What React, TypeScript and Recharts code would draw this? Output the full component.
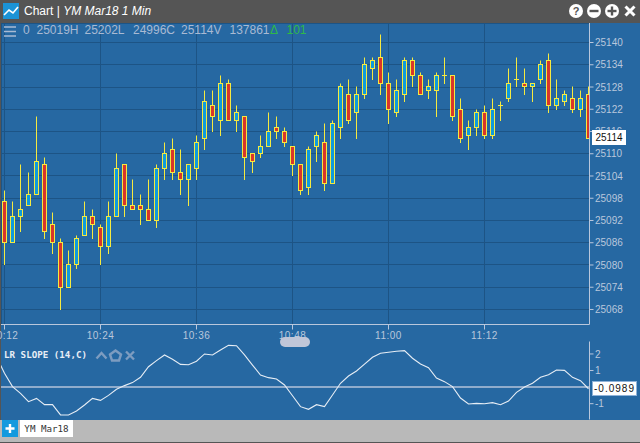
import React from 'react'
import { ComposedChart, LineChart, Bar, Line, XAxis, YAxis, CartesianGrid, ReferenceLine } from 'recharts'

// one entry per minute, first candle is 10:12
const opens = [25097, 25086, 25093, 25096, 25099, 25107, 25091, 25086, 25074, 25080, 25088, 25093, 25090, 25085, 25093, 25107, 25096, 25096, 25095, 25092, 25106, 25111, 25105, 25103, 25106, 25114, 25123, 25119, 25129, 25119, 25120, 25110, 25110, 25112, 25117, 25116, 25112, 25107, 25101, 25112, 25113, 25102, 25117, 25126, 25121, 25126, 25133, 25136, 25129, 25121, 25126, 25135, 25131, 25127, 25127, 25131, 25131, 25122, 25115, 25117, 25121, 25115, 25123, 25125, 25130, 25129, 25128, 25130, 25135, 25123, 25124, 25125, 25122, 25126]
const highs = [25100, 25097, 25107, 25105, 25120, 25109, 25094, 25087, 25084, 25088, 25097, 25095, 25091, 25097, 25110, 25107, 25103, 25099, 25103, 25107, 25113, 25114, 25111, 25107, 25115, 25127, 25127, 25131, 25130, 25123, 25120, 25110, 25115, 25121, 25120, 25117, 25112, 25107, 25112, 25116, 25118, 25119, 25129, 25130, 25128, 25136, 25136, 25142, 25132, 25130, 25136, 25136, 25132, 25130, 25132, 25136, 25131, 25125, 25119, 25122, 25123, 25125, 25124, 25133, 25136, 25133, 25129, 25135, 25137, 25130, 25127, 25128, 25127, 25128]
const lows = [25080, 25086, 25089, 25096, 25099, 25087, 25083, 25068, 25074, 25079, 25088, 25087, 25080, 25083, 25093, 25093, 25095, 25091, 25092, 25090, 25103, 25103, 25099, 25096, 25103, 25111, 25116, 25115, 25119, 25116, 25103, 25105, 25109, 25112, 25114, 25112, 25104, 25099, 25099, 25108, 25100, 25102, 25114, 25118, 25114, 25125, 25130, 25126, 25118, 25120, 25124, 25128, 25126, 25125, 25120, 25129, 25119, 25113, 25111, 25115, 25114, 25114, 25119, 25124, 25128, 25126, 25124, 25129, 25121, 25122, 25123, 25121, 25120, 25114]
const closes = [25086, 25093, 25095, 25099, 25108, 25089, 25086, 25074, 25080, 25087, 25093, 25091, 25085, 25093, 25106, 25096, 25095, 25095, 25092, 25106, 25110, 25105, 25103, 25107, 25113, 25124, 25120, 25129, 25119, 25121, 25109, 25108, 25112, 25116, 25116, 25113, 25107, 25100, 25111, 25115, 25102, 25118, 25128, 25119, 25126, 25134, 25135, 25129, 25122, 25127, 25135, 25131, 25126, 25128, 25131, 25131, 25120, 25114, 25117, 25121, 25115, 25122, 25123, 25129, 25130, 25128, 25129, 25134, 25123, 25125, 25126, 25122, 25125, 25114]

// starts one minute before the first candle, that point sits off the left edge
const slopeValues = [1.84, 0.83, 0.03, -0.38, -0.88, -0.68, -1.06, -1.06, -1.68, -1.68, -1.44, -1.08, -0.68, -0.8, -0.5, -0.13, 0.09, 0.27, 0.59, 1.23, 1.6, 1.94, 1.68, 1.37, 1.35, 1.56, 2.0, 1.94, 2.24, 2.52, 2.5, 1.94, 1.33, 0.73, 0.57, 0.49, 0.13, -0.52, -1.18, -1.34, -1.06, -1.18, -0.48, 0.23, 0.67, 0.97, 1.39, 1.8, 2.04, 2.1, 2.16, 2.2, 1.74, 1.39, 1.17, 0.55, 0.33, 0.03, -0.66, -1.02, -0.98, -1.0, -0.94, -1.06, -0.84, -0.32, 0.01, 0.23, 0.59, 0.75, 1.03, 1.01, 0.59, 0.39, -0.0989]

const timeTicks = [0, 12, 24, 36, 48, 60]
const timeLabels = ['10:12', '10:24', '10:36', '10:48', '11:00', '11:12']
const priceTicks = [25068, 25074, 25080, 25086, 25092, 25098, 25104, 25110, 25116, 25122, 25128, 25134, 25140]
const slopeTicks = [-1, 1, 2]

const candles = opens.map((open, i) => ({ minute: i, open, high: highs[i], low: lows[i], close: closes[i] }))
const slope = slopeValues.map((value, i) => ({ minute: i - 1, value }))

const BLUE_BG = '#2668a2'
const GRID = '#1d5485'
const AXIS = '#b9c7dc'
const LABEL = '#b9c7dc'
const WICK = '#f6ea3f'
const UP = '#0f9bdc'
const DOWN = '#d9362b'
const SANS = '"Liberation Sans", Arial, sans-serif'
const MONO = '"DejaVu Sans Mono", monospace'

const xDomain = [-0.4375, 73.125]
const axisTick = { fill: LABEL, fontSize: 10, fontFamily: SANS }

function Candle(props: any) {
  const { x, y, width, height, payload } = props
  const { open, high, low, close } = payload
  const perUnit = height / (high - low)
  const cx = Math.floor(x + width / 2) + 0.5
  const snap = (v: number) => Math.round(v - 0.6) + 0.5
  const top = snap(y + (high - Math.max(open, close)) * perUnit)
  const bottom = snap(y + (high - Math.min(open, close)) * perUnit)
  return (
    <g>
      <line x1={cx} x2={cx} y1={snap(y)} y2={snap(y + height) + 0.5} stroke={WICK} strokeWidth={1} />
      {open === close ? (
        <line x1={cx - 2.5} x2={cx + 2.5} y1={top} y2={top} stroke={WICK} strokeWidth={1} />
      ) : (
        <rect x={cx - 2} y={top} width={4} height={bottom - top} fill={close > open ? UP : DOWN} stroke={WICK} strokeWidth={1} />
      )}
    </g>
  )
}

function PriceChart() {
  return (
    <ComposedChart width={640} height={340} data={candles} margin={{ top: 23, left: 1, right: 0, bottom: 0 }} style={{ position: 'absolute', left: 0, top: 0 }}>
      <CartesianGrid stroke={GRID} strokeWidth={1} shapeRendering="crispEdges" />
      <XAxis
        dataKey="minute"
        type="number"
        domain={xDomain}
        allowDataOverflow
        ticks={timeTicks}
        interval={0}
        height={15.5}
        tickSize={5}
        tickMargin={2}
        tickFormatter={(v: number) => timeLabels[timeTicks.indexOf(v)]}
        tick={{ ...axisTick, letterSpacing: 0.5 }}
        stroke={AXIS}
      />
      <YAxis
        orientation="right"
        type="number"
        domain={[25063.95, 25145.26]}
        allowDataOverflow
        ticks={priceTicks}
        interval={0}
        width={50.5}
        tickSize={4}
        tickMargin={1.5}
        tick={axisTick}
        stroke={AXIS}
      />
      <Bar dataKey={(d: any) => [d.low, d.high]} barSize={8} shape={Candle} isAnimationActive={false} />
    </ComposedChart>
  )
}

function SlopeChart() {
  return (
    <LineChart width={640} height={89.5} data={slope} margin={{ top: 11.5, left: 1, right: 0, bottom: 0 }} style={{ position: 'absolute', left: 0, top: 330 }}>
      <XAxis orientation="top" dataKey="minute" type="number" domain={xDomain} allowDataOverflow height={0} tick={false} tickLine={false} stroke={AXIS} />
      <YAxis
        orientation="right"
        type="number"
        domain={[-1.955, 2.752]}
        allowDataOverflow
        ticks={slopeTicks}
        interval={0}
        width={50.5}
        tickSize={4}
        tickMargin={1.5}
        tick={axisTick}
        stroke={AXIS}
      />
      <ReferenceLine y={0} stroke="#b4c3da" strokeWidth={1.5} />
      <Line dataKey="value" type="linear" stroke="#e6edf5" strokeWidth={1.1} dot={false} isAnimationActive={false} />
    </LineChart>
  )
}

const quoteParts = [
  { text: '0', left: 23 },
  { text: '25019H', left: 36.5 },
  { text: '25202L', left: 84.5 },
  { text: '24996C', left: 133 },
  { text: '25114V', left: 181 },
  { text: '137861', left: 229.5 },
]

function abs(left: number, top: number, width: number, height: number): React.CSSProperties {
  return { position: 'absolute', left, top, width, height }
}

function TitleBar() {
  return (
    <div style={{ ...abs(0, 0, 640, 23), background: '#555555' }}>
      <svg style={abs(3, 3, 16, 16)} viewBox="0 0 16 16">
        <rect width="16" height="16" fill="#1b93d6" />
        <polyline points="1,12 6,7 10,10 15,4" fill="none" stroke="#fff" strokeWidth="1.6" />
      </svg>
      <div style={{ position: 'absolute', left: 24, top: 4, fontFamily: SANS, fontSize: 12, lineHeight: '15px', color: '#fff', whiteSpace: 'pre' }}>
        Chart | <i>YM Mar18 1 Min</i>
      </div>
      <svg style={abs(568, 3, 72, 16)} viewBox="0 0 72 16">
        <circle cx="8" cy="8" r="7" fill="#fff" />
        <text x="8" y="12" textAnchor="middle" fontFamily={SANS} fontWeight="bold" fontSize="11" fill="#555">?</text>
        <circle cx="26" cy="8" r="7" fill="#fff" />
        <rect x="21.5" y="6.8" width="9" height="2.4" fill="#555" />
        <circle cx="44" cy="8" r="7" fill="#fff" />
        <rect x="39.5" y="6.8" width="9" height="2.4" fill="#555" />
        <rect x="42.8" y="3.5" width="2.4" height="9" fill="#555" />
        <path d="M57.5 3.5 L66.5 12.5 M66.5 3.5 L57.5 12.5" stroke="#fff" strokeWidth="3" />
      </svg>
    </div>
  )
}

function QuoteLine() {
  const style: React.CSSProperties = { position: 'absolute', top: 23, fontFamily: SANS, fontSize: 12, lineHeight: '14px', color: '#a9bad3', whiteSpace: 'pre' }
  return (
    <>
      <svg style={abs(4, 26, 12, 11)} viewBox="0 0 12 11">
        <path d="M0 1 H12 M0 5.5 H12 M0 10 H12" stroke="#a9bad3" strokeWidth="1.6" />
      </svg>
      {quoteParts.map((p) => (
        <span key={p.text} style={{ ...style, left: p.left }}>{p.text}</span>
      ))}
      <span style={{ ...style, left: 270, color: '#2fb84a' }}>Δ</span>
      <span style={{ ...style, left: 286.5, color: '#2fb84a' }}>101</span>
    </>
  )
}

function StudyOverlay() {
  return (
    <>
      <div style={{ position: 'absolute', left: 4, top: 348, fontFamily: MONO, fontWeight: 'bold', fontSize: 9.2, lineHeight: '13px', color: '#e8eef6', whiteSpace: 'pre' }}>LR SLOPE (14,C)</div>
      <svg style={abs(95, 349, 42, 13)} viewBox="0 0 42 13">
        <path d="M1.5 9.5 L6.5 4 L11.5 9.5" fill="none" stroke="#7d9cc0" strokeWidth="2.4" />
        <path d="M20.5 1.5 L26 5.5 L24 11.5 L17 11.5 L15 5.5 Z" fill="none" stroke="#7d9cc0" strokeWidth="2.4" />
        <path d="M31 2.5 L39 10.5 M39 2.5 L31 10.5" stroke="#7d9cc0" strokeWidth="2.4" />
      </svg>
    </>
  )
}

function TagBox({ left, top, width, height, text, spacing, border }: any) {
  return (
    <div style={{ ...abs(left, top, width, height), background: '#fff', color: '#111', fontFamily: SANS, fontSize: 10, letterSpacing: spacing, lineHeight: `${border ? height - 2 : height}px`, textAlign: 'center', boxSizing: 'border-box', border: border ? '1px solid #8fb3d9' : 'none' }}>
      {text}
    </div>
  )
}

function TabBar() {
  return (
    <div style={{ ...abs(0, 419.5, 640, 23), background: '#b9b9b9' }}>
      <svg style={abs(2, 0.5, 16, 17)} viewBox="0 0 16 17">
        <rect width="16" height="17" fill="#139ade" />
        <path d="M8 4 V13 M3.5 8.5 H12.5" stroke="#fff" strokeWidth="2.4" />
      </svg>
      <div style={{ ...abs(20, 0.5, 53, 17), background: '#fff', color: '#333', fontFamily: MONO, fontSize: 9.2, lineHeight: '17px', textAlign: 'center', whiteSpace: 'pre' }}>YM Mar18</div>
    </div>
  )
}

export default function App() {
  return (
    <div style={{ ...abs(0, 0, 640, 443), background: '#555555', overflow: 'hidden' }}>
      <div style={{ ...abs(1, 23, 639, 397), background: BLUE_BG }} />
      <PriceChart />
      <SlopeChart />
      <TitleBar />
      <QuoteLine />
      <StudyOverlay />
      <div style={{ ...abs(280, 337, 30, 10), background: '#c0c6d8', borderRadius: 5 }} />
      <TagBox left={592} top={130} width={34} height={15} text="25114" spacing={0} />
      <TagBox left={592} top={380.5} width={45} height={15.5} text="-0.0989" spacing={1} border />
      <TabBar />
      <div style={{ ...abs(0, 442, 640, 1), background: '#555555' }} />
    </div>
  )
}
